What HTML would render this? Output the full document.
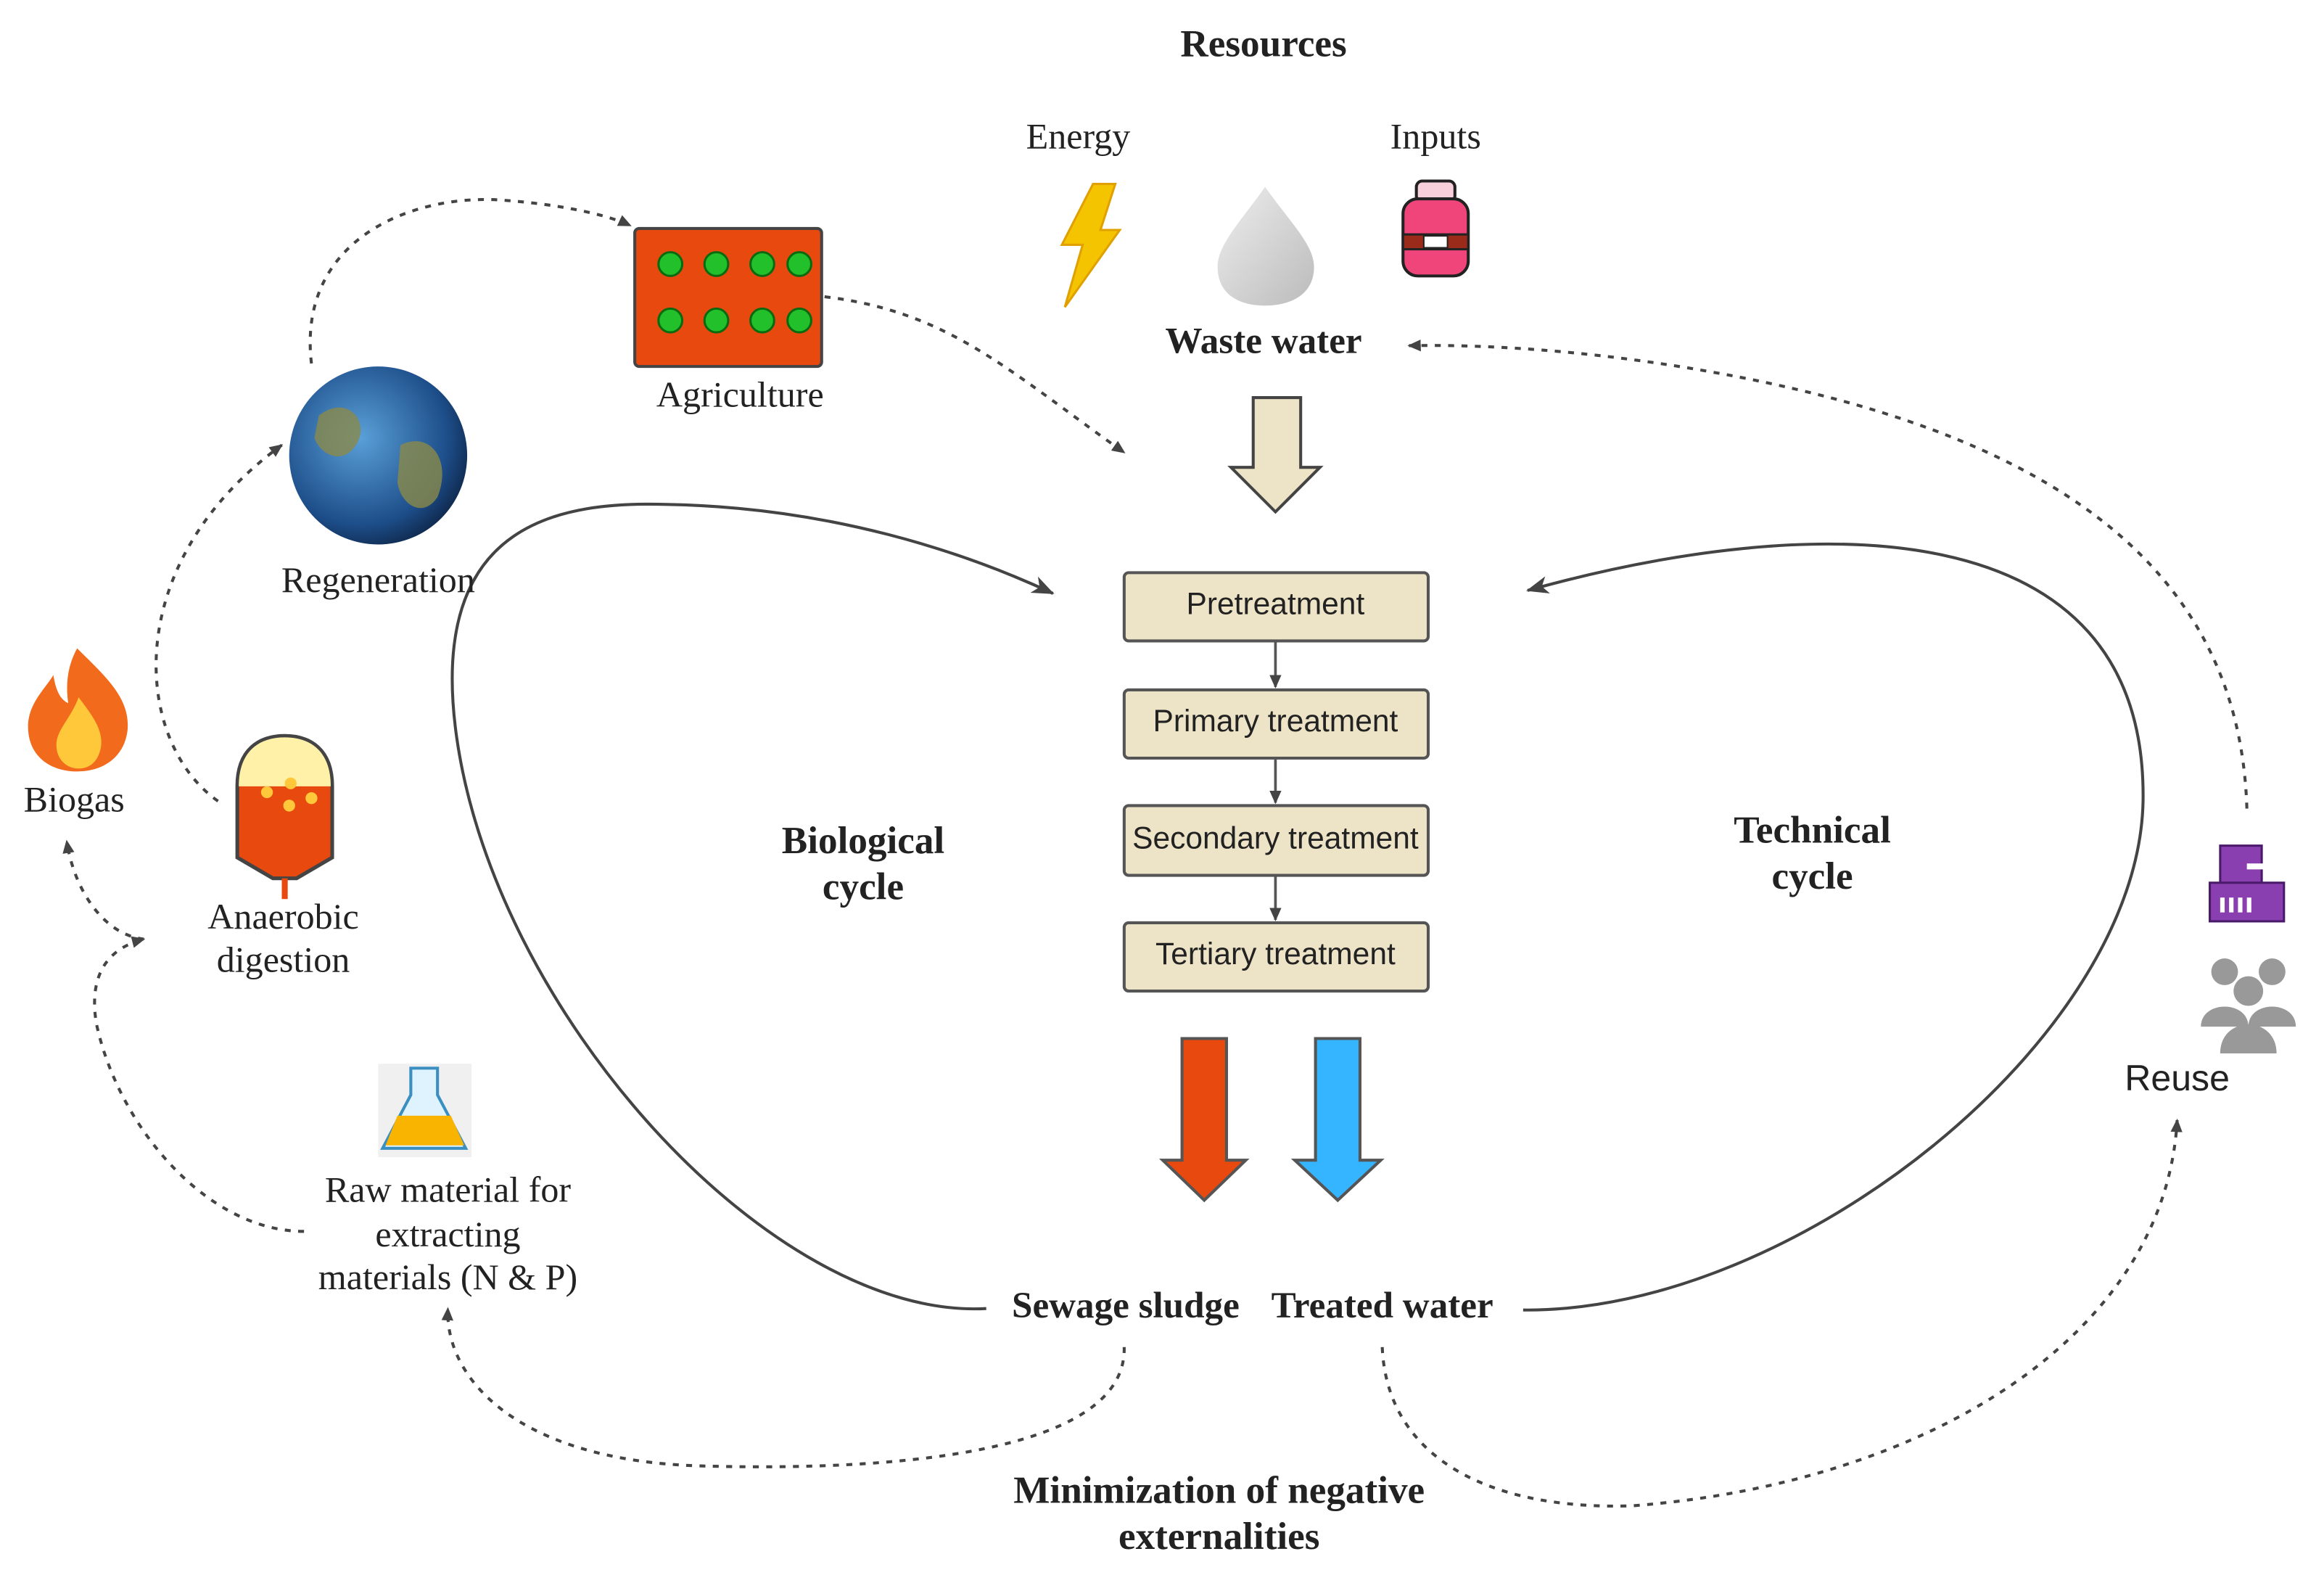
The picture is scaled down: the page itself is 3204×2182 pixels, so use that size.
<!DOCTYPE html>
<html><head><meta charset="utf-8"><style>
html,body{margin:0;padding:0;background:#fff;}
svg{display:block}
.s{font-family:"Liberation Serif",serif;fill:#222}
.b{font-weight:bold}
.a{font-family:"Liberation Sans",sans-serif;fill:#222}
</style></head><body>
<svg width="3204" height="2182" viewBox="0 0 1567 1067" preserveAspectRatio="none" xmlns="http://www.w3.org/2000/svg">
<defs>
<marker id="ah" markerWidth="10" markerHeight="10" refX="8" refY="5" orient="auto" markerUnits="userSpaceOnUse"><path d="M0,1 L9,5 L0,9 z" fill="#444"/></marker>
<marker id="as" markerWidth="16" markerHeight="12" refX="14" refY="6" orient="auto" markerUnits="userSpaceOnUse"><path d="M0,0 L15,6 L0,12 L4,6 z" fill="#444"/></marker>
<radialGradient id="gl" cx="0.4" cy="0.4" r="0.7"><stop offset="0" stop-color="#5aa0d8"/><stop offset="0.7" stop-color="#1d4e8a"/><stop offset="1" stop-color="#0b1d3a"/></radialGradient>
<linearGradient id="dr" x1="0" y1="0" x2="1" y2="1"><stop offset="0" stop-color="#eee"/><stop offset="1" stop-color="#bbb"/></linearGradient>
</defs>

<text x="852" y="38" class="s b" font-size="26" text-anchor="middle">Resources</text>
<text x="727" y="100" class="s" font-size="24.5" text-anchor="middle">Energy</text>
<text x="968" y="100" class="s" font-size="24.5" text-anchor="middle">Inputs</text>
<path d="M737,124 L752,124 L742,155 L755,155 L718,207 L730,165 L716,165 Z" fill="#f5c400" stroke="#e0a000" stroke-width="1.5"/>
<path d="M853,126 C870,150 886,165 886,180 C886,198 871,206 853,206 C835,206 821,198 821,180 C821,165 836,150 853,126 Z" fill="url(#dr)"/>
<rect x="955" y="122" width="26" height="14" rx="4" fill="#f8d0dc" stroke="#222" stroke-width="2"/>
<rect x="946" y="134" width="44" height="52" rx="10" fill="#f0457a" stroke="#222" stroke-width="2"/>
<rect x="946" y="158" width="44" height="10" fill="#9a2a1a" stroke="#222" stroke-width="1.5"/>
<rect x="960" y="159" width="16" height="8" fill="#fff" stroke="#222" stroke-width="1"/>
<text x="852" y="238" class="s b" font-size="25" text-anchor="middle">Waste water</text>

<path d="M845,268 L877,268 L877,315 L890,315 L860,345 L830,315 L845,315 Z" fill="#ede3c6" stroke="#444" stroke-width="2"/>

<g stroke="#555" stroke-width="2" fill="#ede3c6">
<rect x="758" y="386" width="205" height="46" rx="3"/>
<rect x="758" y="465" width="205" height="46" rx="3"/>
<rect x="758" y="543" width="205" height="47" rx="3"/>
<rect x="758" y="622" width="205" height="46" rx="3"/>
</g>
<g stroke="#555" stroke-width="1.8" marker-end="url(#ah)">
<line x1="860" y1="432" x2="860" y2="463"/>
<line x1="860" y1="511" x2="860" y2="541"/>
<line x1="860" y1="590" x2="860" y2="620"/>
</g>
<g class="a" font-size="20.8" text-anchor="middle">
<text x="860" y="414">Pretreatment</text>
<text x="860" y="493">Primary treatment</text>
<text x="860" y="572">Secondary treatment</text>
<text x="860" y="650">Tertiary treatment</text>
</g>

<path d="M797,700 L827,700 L827,782 L840,782 L812,809 L784,782 L797,782 Z" fill="#e8490f" stroke="#555" stroke-width="2"/>
<path d="M887,700 L917,700 L917,782 L931,782 L902,809 L873,782 L887,782 Z" fill="#35b4ff" stroke="#555" stroke-width="2"/>

<text x="759" y="888" class="s b" font-size="25" text-anchor="middle">Sewage sludge</text>
<text x="932" y="888" class="s b" font-size="25" text-anchor="middle">Treated water</text>
<text x="582" y="575" class="s b" font-size="26" text-anchor="middle">Biological</text>
<text x="582" y="606" class="s b" font-size="26" text-anchor="middle">cycle</text>
<text x="1222" y="568" class="s b" font-size="26" text-anchor="middle">Technical</text>
<text x="1222" y="599" class="s b" font-size="26" text-anchor="middle">cycle</text>

<path d="M665,882 C520,890 330,680 307,490 C290,350 380,338 450,340 C560,342 650,372 710,400" fill="none" stroke="#444" stroke-width="2" marker-end="url(#as)"/>
<path d="M1027,883 C1210,885 1442,700 1445,540 C1448,340 1220,345 1030,398" fill="none" stroke="#444" stroke-width="2" marker-end="url(#as)"/>

<rect x="428" y="154" width="126" height="93" rx="3" fill="#e8490f" stroke="#444" stroke-width="2"/>
<g fill="#22c02a" stroke="#0a6a10" stroke-width="1.5">
<circle cx="452" cy="178" r="8"/><circle cx="483" cy="178" r="8"/><circle cx="514" cy="178" r="8"/><circle cx="539" cy="178" r="8"/>
<circle cx="452" cy="216" r="8"/><circle cx="483" cy="216" r="8"/><circle cx="514" cy="216" r="8"/><circle cx="539" cy="216" r="8"/>
</g>
<text x="499" y="274" class="s" font-size="24.5" text-anchor="middle">Agriculture</text>

<circle cx="255" cy="307" r="60" fill="url(#gl)"/>
<path d="M215,280 C235,265 250,285 240,300 C230,315 215,305 212,295 Z M270,300 C290,290 305,310 295,335 C285,350 270,340 268,325 Z" fill="#8a8a4a" opacity="0.8"/>
<text x="255" y="399" class="s" font-size="24.5" text-anchor="middle">Regeneration</text>

<path d="M52,437 C70,455 88,470 86,492 C84,510 70,520 52,520 C34,520 20,510 19,492 C18,475 30,465 36,455 C38,468 42,472 46,474 C44,460 46,448 52,437 Z" fill="#f26a1b"/>
<path d="M53,470 C62,482 70,492 68,504 C66,514 60,518 53,518 C45,518 38,512 38,502 C38,492 48,484 53,470 Z" fill="#ffc83a"/>
<text x="50" y="547" class="s" font-size="24.5" text-anchor="middle">Biogas</text>

<path d="M160,530 C160,505 175,496 192,496 C209,496 224,505 224,530 L224,578 L200,592 L184,592 L160,578 Z" fill="#e8490f" stroke="#444" stroke-width="2.5"/>
<path d="M161,530 C161,506 175,497 192,497 C209,497 223,506 223,530 Z" fill="#fff2a8"/>
<circle cx="180" cy="534" r="4" fill="#ffc83a"/><circle cx="196" cy="528" r="4" fill="#ffc83a"/><circle cx="210" cy="538" r="4" fill="#ffc83a"/><circle cx="195" cy="543" r="4" fill="#ffc83a"/>
<line x1="192" y1="592" x2="192" y2="606" stroke="#e8490f" stroke-width="4"/>
<text x="191" y="626" class="s" font-size="24.5" text-anchor="middle">Anaerobic</text>
<text x="191" y="655" class="s" font-size="24.5" text-anchor="middle">digestion</text>

<rect x="255" y="717" width="63" height="63" fill="#f0f0f0"/>
<path d="M277,720 L295,720 L295,738 L314,774 L258,774 L277,738 Z" fill="#dff3ff" stroke="#3a8ec0" stroke-width="2"/>
<path d="M268,752 L304,752 L313,772 L260,772 Z" fill="#f8b400"/>
<text x="302" y="810" class="s" font-size="24.5" text-anchor="middle">Raw material for</text>
<text x="302" y="840" class="s" font-size="24.5" text-anchor="middle">extracting</text>
<text x="302" y="869" class="s" font-size="24.5" text-anchor="middle">materials (N &amp; P)</text>

<g fill="#8a3fb0" stroke="#4a1a6a" stroke-width="1.5">
<rect x="1497" y="570" width="28" height="30"/>
<rect x="1490" y="595" width="50" height="26"/>
</g>
<rect x="1515" y="582" width="14" height="4" fill="#fff"/>
<g fill="#fff"><rect x="1497" y="605" width="3" height="10"/><rect x="1503" y="605" width="3" height="10"/><rect x="1509" y="605" width="3" height="10"/><rect x="1515" y="605" width="3" height="10"/></g>
<g fill="#999">
<circle cx="1500" cy="655" r="9"/><circle cx="1532" cy="655" r="9"/><circle cx="1516" cy="668" r="10"/>
<path d="M1484,692 C1484,674 1516,674 1516,692 Z"/><path d="M1516,692 C1516,674 1548,674 1548,692 Z"/>
<path d="M1497,710 C1497,684 1535,684 1535,710 Z"/>
</g>
<text x="1468" y="735" class="a" font-size="24.5" text-anchor="middle">Reuse</text>

<g fill="none" stroke="#444" stroke-width="2" stroke-dasharray="4,5" marker-end="url(#ah)">
<path d="M1515,545 C1510,380 1380,290 1150,250 C1070,236 1000,232 950,233"/>
<path d="M556,200 C640,210 680,250 758,305"/>
<path d="M210,245 C200,160 280,130 340,135 C380,138 410,145 425,152"/>
<path d="M147,540 C90,500 80,380 190,300"/>
<path d="M97,633 C70,630 50,600 45,567"/>
<path d="M205,830 C140,830 80,760 65,690 C60,660 70,640 97,633"/>
<path d="M758,908 C760,980 600,992 470,988 C350,984 300,930 302,882"/>
<path d="M932,908 C935,980 1000,1018 1100,1015 C1300,1000 1460,900 1468,755"/>
</g>

<text x="822" y="1013" class="s b" font-size="26" text-anchor="middle">Minimization of negative</text>
<text x="822" y="1044" class="s b" font-size="26" text-anchor="middle">externalities</text>
</svg>
</body></html>
